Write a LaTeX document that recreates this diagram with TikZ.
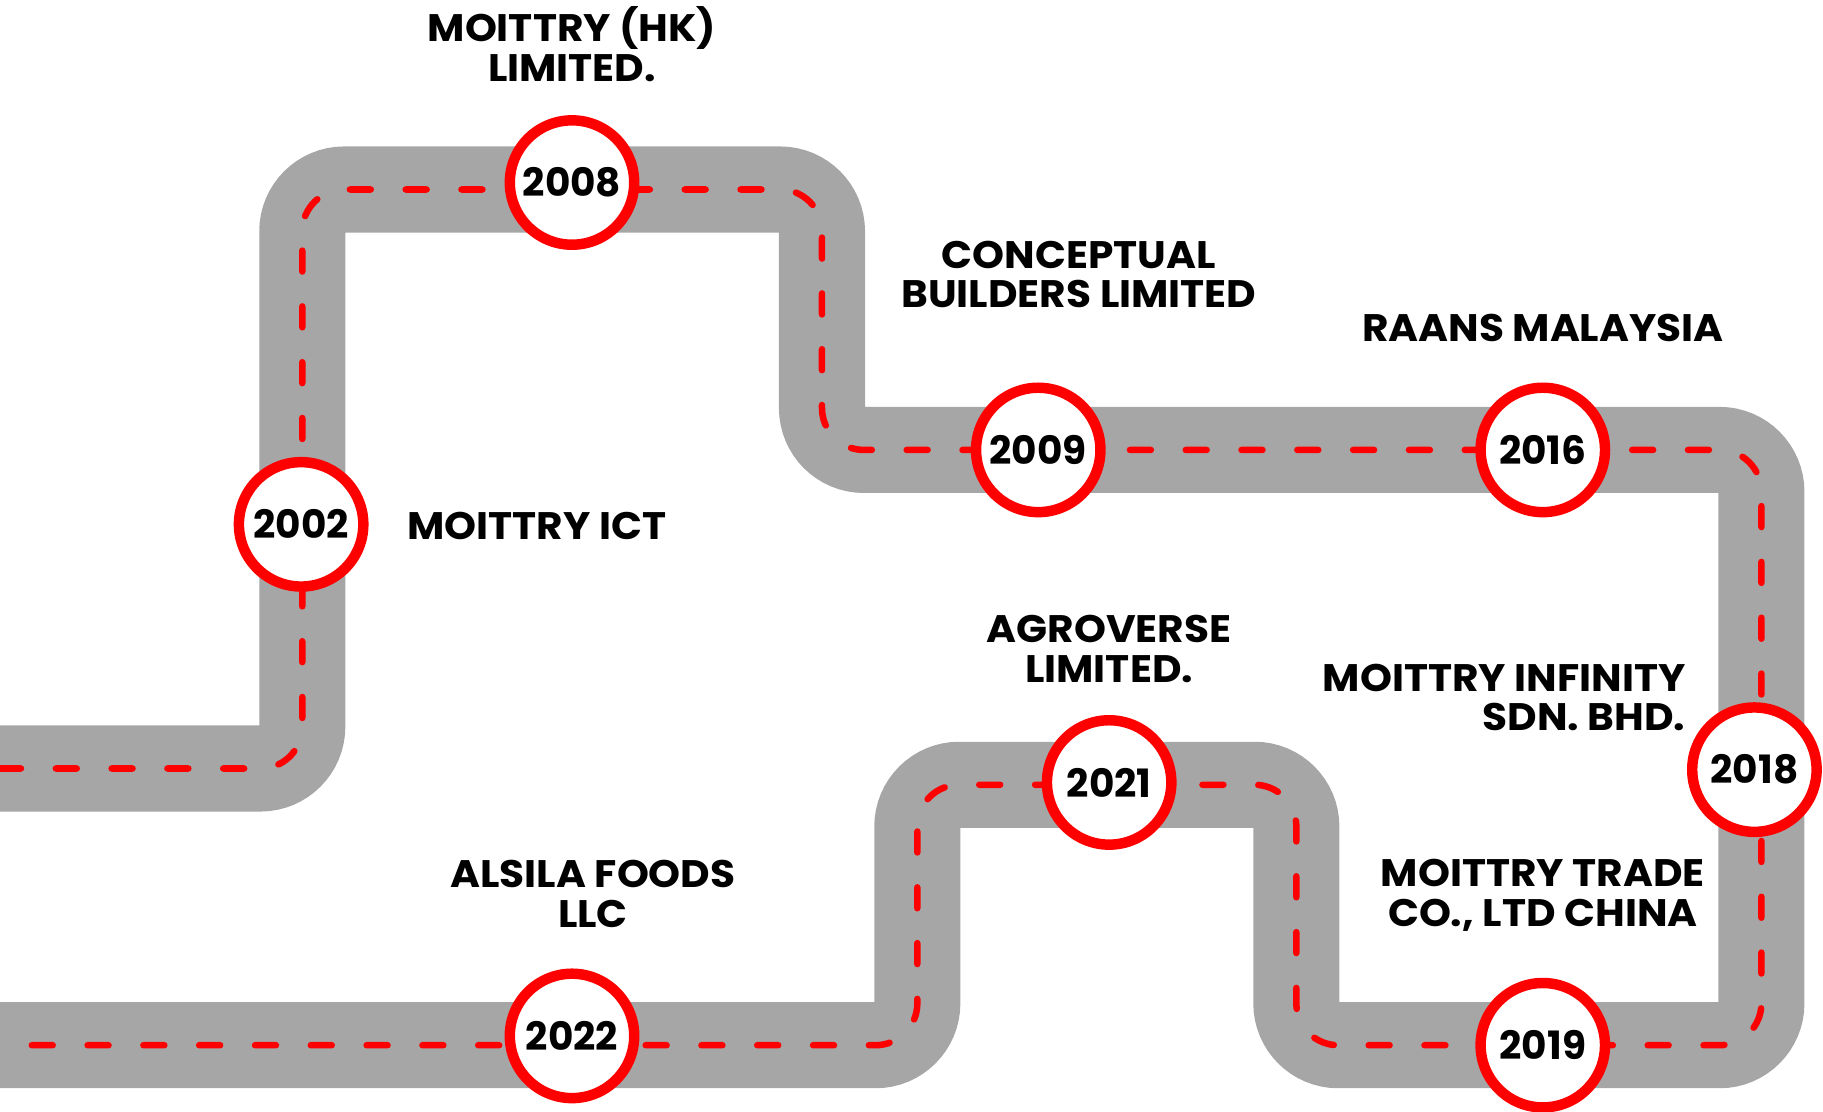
\documentclass[tikz,border=0pt]{standalone}
\usepackage{fontspec}
\setmainfont{Poppins}[FakeStretch=1.06]
\newfontfamily\yearfont{Poppins}
\usepackage{tikz}
\definecolor{roadgray}{HTML}{A6A6A6}
\definecolor{markred}{HTML}{FF0000}
\tikzset{
	road/.style={line width=37pt, color=roadgray, rounded corners=18pt},
	lane/.style={line width=2.8pt, color=markred, rounded corners=18pt, dash pattern=on 9pt off 15pt, line cap=round},
	yearring/.style={circle, draw=markred, line width=4.5pt, fill=white, minimum size=53.5pt, inner sep=0pt, font=\yearfont\fontsize{16.8}{17}\selectfont\bfseries},
	firm/.style={align=center, inner sep=0pt, font=\fontsize{16.5}{17}\selectfont\bfseries}
}

\begin{document}
\begin{tikzpicture}[x=0.5pt, y=-0.5pt]
		%%%%% START %%%%%
		\useasboundingbox (0, 0) rectangle (1568, 956);
		
		\draw[road] (0, 661) -- (260, 661) -- (260, 163) -- (707, 163) -- (707, 387) -- (1515, 387) -- (1515, 899) -- (1115, 899) -- (1115, 675) -- (789, 675) -- (789, 899) -- (0, 899);
		\draw[lane] (0, 661) -- (260, 661) -- (260, 163) -- (707, 163) -- (707, 387) -- (1515, 387) -- (1515, 899) -- (1115, 899) -- (1115, 675) -- (789, 675) -- (789, 899) -- (0, 899);
		
		\node[yearring] (y2002) at (259, 451) {2002};
		\node[yearring] (y2008) at (492, 157) {2008};
		\node[yearring] (y2009) at (893, 387) {2009};
		\node[yearring] (y2016) at (1327, 387) {2016};
		\node[yearring] (y2018) at (1509, 662) {2018};
		\node[yearring] (y2019) at (1327, 899) {2019};
		\node[yearring] (y2021) at (954, 673) {2021};
		\node[yearring] (y2022) at (492, 891) {2022};
		
		\node[firm] (hk) at (492, 38) {MOITTRY (HK)\\LIMITED.};
		\node[firm, anchor=west] (ict) at (350, 452) {MOITTRY ICT};
		\node[firm] (conceptual) at (928, 236) {CONCEPTUAL\\BUILDERS LIMITED};
		\node[firm] (raans) at (1327, 282) {RAANS MALAYSIA};
		\node[firm, anchor=east, align=right] (infinity) at (1450, 600) {MOITTRY INFINITY\\SDN. BHD.};
		\node[firm] (trade) at (1327, 770) {MOITTRY TRADE\\CO., LTD CHINA};
		\node[firm] (agroverse) at (954, 558) {AGROVERSE\\LIMITED.};
		\node[firm] (alsila) at (510, 769) {ALSILA FOODS\\LLC};
		
		%%%%% END %%%%%
	\end{tikzpicture}
\end{document}
